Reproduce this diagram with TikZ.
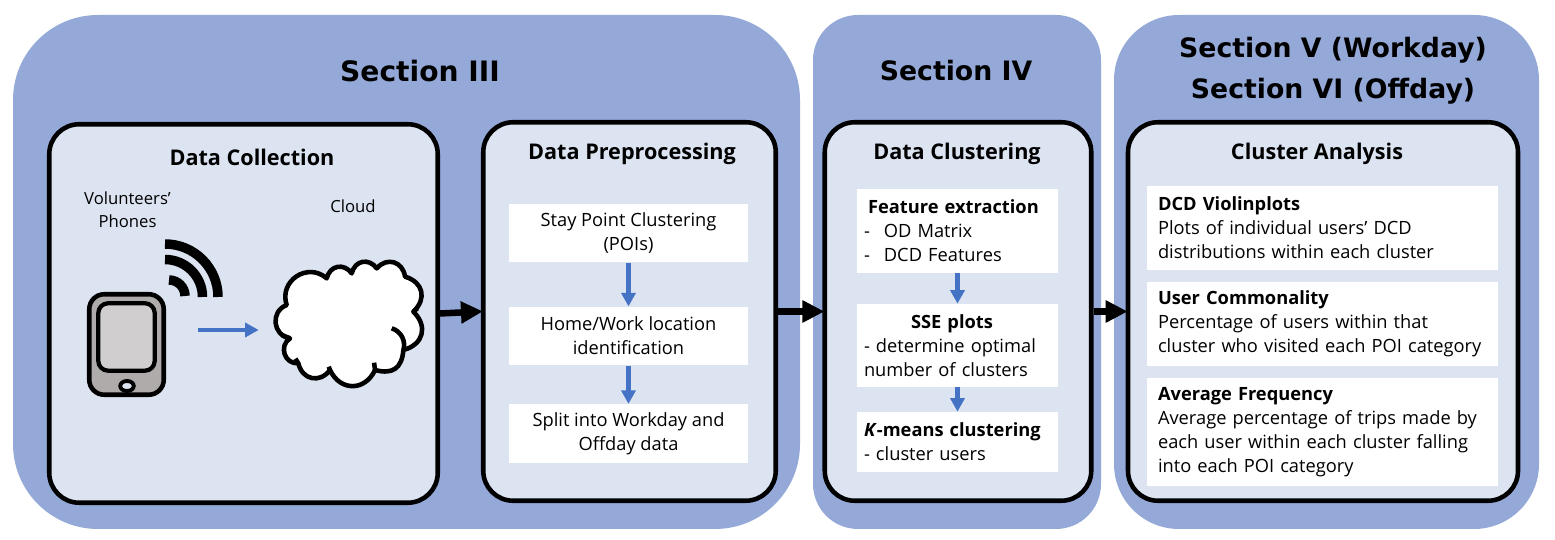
\documentclass[tikz,border=0pt]{standalone}
\usepackage{fontspec}
\setmainfont{Open Sans}
\newfontfamily\sectionfont{DejaVu Sans}
\usetikzlibrary{arrows.meta,positioning,calc,shapes.geometric}
\definecolor{panelblue}{HTML}{95A9D9}
\definecolor{paleblue}{HTML}{DCE3F1}
\definecolor{arrowblue}{HTML}{4472C4}
\definecolor{phonegrey}{HTML}{AFABAB}
\definecolor{screengrey}{HTML}{D0CECE}
\tikzset{
	panel/.style={fill=panelblue, inner sep=0pt, minimum height=10.28cm},
	stage/.style={draw=black, fill=paleblue, line width=2.6pt, inner sep=0pt, rounded corners=0.6cm, minimum height=7.57cm},
	whitebox/.style={fill=white, inner ysep=0pt, align=left, font=\fontsize{10.4}{13.6}\selectfont},
	prepbox/.style={whitebox, inner xsep=0pt, align=center, minimum width=4.78cm, minimum height=1.17cm},
	clusbox/.style={whitebox, inner xsep=0.14cm, text width=3.74cm, minimum height=1.2cm},
	anabox/.style={whitebox, inner xsep=0.22cm, text width=6.58cm, minimum height=1.68cm},
	sectiontitle/.style={font=\sectionfont\bfseries\fontsize{15.2}{23.2}\selectfont, align=center},
	stagetitle/.style={font=\bfseries\fontsize{12.3}{14}\selectfont},
	smalltext/.style={font=\fontsize{9.5}{13}\selectfont, align=center},
	flow/.style={line width=3.7pt, shorten >=-0.04cm, -{Triangle[length=0.44cm, width=0.42cm]}},
	blueflow/.style={draw=arrowblue, line width=2.6pt, -{Triangle[length=0.27cm, width=0.28cm]}},
	wifi/.style={line width=0.19cm},
	lobe/.style={bend left=#1, looseness=1.35},
	cloudline/.style={line width=2.6pt, line join=round}
}
\begin{document}
\begin{tikzpicture}
	\useasboundingbox (0,0) rectangle (31.1,10.8);
	% section backgrounds
	\node [panel, rounded corners=1.7cm, minimum width=15.74cm](secthree) at (8.13,5.36) {};
	\node [panel, rounded corners=0.9cm, minimum width=5.76cm](secfour) at (19.14,5.36) {};
	\node [panel, rounded corners=1.3cm, minimum width=8.5cm](secfive) at (26.53,5.36) {};
	\node [sectiontitle, font=\sectionfont\bfseries\fontsize{16}{23.2}\selectfont](titlethree) at (8.4,9.38) {Section III};
	\node [sectiontitle](titlefour) at (19.12,9.38) {Section IV};
	\node [sectiontitle](titlefive) at (26.66,9.38) {Section V (Workday)\\Section VI (Offday)};
	% stages
	\node [stage, minimum width=7.77cm](collect) at (4.87,4.53) {};
	\node [stage, minimum width=5.85cm](prep) at (12.59,4.57) {};
	\node [stage, minimum width=5.33cm](cluster) at (19.16,4.57) {};
	\node [stage, minimum width=7.8cm](analysis) at (26.46,4.57) {};
	\node [stagetitle](collecttitle) at (5.04,7.66) {Data Collection};
	\node [stagetitle](preptitle) at (12.64,7.72) {Data Preprocessing};
	\node [stagetitle](clustertitle) at (19.14,7.72) {Data Clustering};
	\node [stagetitle](analysistitle) at (26.34,7.72) {Cluster Analysis};
	% phone and cloud
	\node [smalltext](phonelabel) at (2.55,6.6) {Volunteers'\\Phones};
	\node [smalltext](cloudlabel) at (7.06,6.68) {Cloud};
	\node [draw=black, fill=phonegrey, line width=2.6pt, rounded corners=0.3cm, inner sep=0pt, minimum width=1.49cm, minimum height=2.01cm](phone) at (2.53,3.91) {};
	\node [draw=black, fill=screengrey, line width=2.4pt, rounded corners=0.2cm, inner sep=0pt, minimum width=1.13cm, minimum height=1.35cm](screen) at (2.53,4.06) {};
	\node [draw=black, fill=paleblue, ellipse, line width=2.2pt, inner sep=0pt, minimum width=0.27cm, minimum height=0.2cm](button) at (2.54,3.08) {};
	\draw [wifi] (3.3,5.92) arc (90:0:1.06);
	\draw [wifi] (3.3,5.61) arc (90:0:0.75);
	\draw [wifi] (3.38,5.2) arc (90:0:0.32);
	\begin{scope}[shift={(1.2,7.4)}, x=0.00667cm, y=-0.00667cm]
		\draw [cloudline, fill=white] (680,405) to [lobe=75] (800,325) to [lobe=65] (875,310) to [lobe=65] (950,295) to [lobe=65] (1035,320) to [lobe=60] (1060,425) to [lobe=60] (1030,540) to [lobe=50] (945,600) to [lobe=65] (810,600) to [lobe=65] (715,580) to [lobe=75] (690,505) to [lobe=75] cycle;
		\draw [cloudline] (995,475) to [bend left=45] (1030,540);
		\draw [cloudline] (945,600) -- (942,578);
		\draw [cloudline] (810,600) -- (806,590);
		\draw [cloudline] (715,580) -- (706,566);
		\draw [cloudline] (690,505) -- (665,495);
		\draw [cloudline] (1060,425) -- (1072,415);
	\end{scope}
	\node [inner sep=0pt, minimum width=2.88cm, minimum height=2cm](cloud) at (6.9,4.2) {};
	\draw [blueflow, shorten <=0.64cm, shorten >=0.28cm] (phone.east |- cloud.west) -- (cloud.west);
	% preprocessing steps
	\node [prepbox](stay) at (12.57,6.14) {Stay Point Clustering\\(POIs)};
	\node [prepbox](home) at (12.57,4.08) {Home/Work location\\identification};
	\node [prepbox](split) at (12.57,2.13) {Split into Workday and\\Offday data};
	\draw [blueflow] (stay) -- (home);
	\draw [blueflow] (home) -- (split);
	% clustering steps
	\node [clusbox, minimum height=1.68cm](feature) at (19.15,6.18) {\hspace*{0.08cm}\textbf{Feature extraction}\\-\hspace{0.28cm}OD Matrix\\-\hspace{0.28cm}DCD Features};
	\node [clusbox, minimum height=1.66cm](sse) at (19.15,3.89) {\hspace*{0.94cm}\textbf{SSE plots}\\- determine optimal\\number of clusters};
	\node [clusbox](kmeans) at (19.15,1.96) {\textbf{\textit{K}-means clustering}\\- cluster users};
	\draw [blueflow] (feature) -- (sse);
	\draw [blueflow] (sse) -- (kmeans);
	% analysis items
	\node [anabox](violin) at (26.45,6.24) {\textbf{DCD Violinplots}\\Plots of individual users' DCD\\distributions within each cluster};
	\node [anabox](common) at (26.45,4.32) {\textbf{User Commonality}\\Percentage of users within that\\cluster who visited each POI category};
	\node [anabox, minimum height=2.16cm](freq) at (26.45,2.16) {\textbf{Average Frequency}\\Average percentage of trips made by\\each user within each cluster falling\\into each POI category};
	% stage arrows
	\draw [flow] (collect.east) -- (prep.west);
	\draw [flow] (prep.east) -- (cluster.west);
	\draw [flow] (cluster.east) -- (analysis.west);
\end{tikzpicture}
\end{document}
